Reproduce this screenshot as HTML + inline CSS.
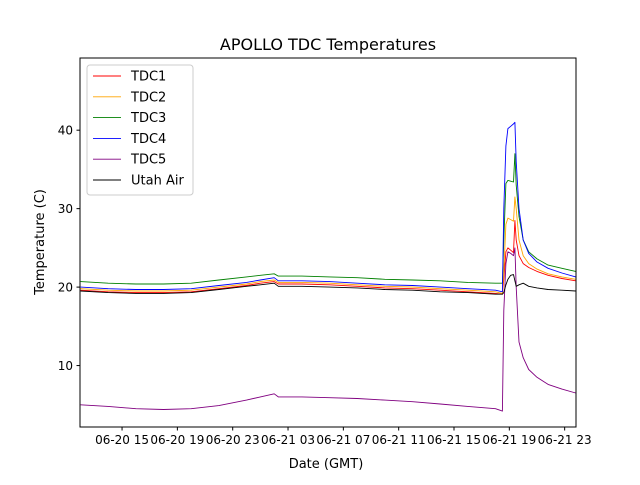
<!DOCTYPE html>
<html><head><meta charset="utf-8"><style>
body{margin:0;background:#fff;font-family:"Liberation Sans","DejaVu Sans",sans-serif}
svg text{font-family:"DejaVu Sans","Liberation Sans",sans-serif}
</style></head><body>
<svg id="c" width="640" height="480" xmlns="http://www.w3.org/2000/svg"></svg>
<script>
const seriesNames=["TDC1","TDC2","TDC3","TDC4","TDC5","Utah Air"];
const seriesColors=["red","orange","green","blue","purple","black"];
const hoursT=[12,14,16,18,20,22,24,25,26,26.3,28,30,32,34,36,38,40,42,42.5,42.6,42.75,42.9,43.1,43.3,43.4,43.5,43.7,44.0,44.4,45,45.8,46.8,47.8];
const tdc1=[19.6,19.4,19.3,19.3,19.4,19.8,20.2,20.5,20.7,20.4,20.4,20.3,20.1,19.9,19.8,19.6,19.4,19.2,19.1,21,24.5,25,24.7,24.4,28.5,26,24,23,22.5,22,21.5,21.1,20.8];
const tdc2=[19.8,19.6,19.5,19.5,19.6,20.0,20.4,20.7,20.9,20.6,20.6,20.5,20.3,20.1,20.0,19.8,19.6,19.4,19.2,22,28,28.8,28.6,28.4,31.5,30,26,24,23,22.3,21.7,21.3,21.0];
const tdc3=[20.7,20.5,20.4,20.4,20.5,20.9,21.3,21.5,21.7,21.4,21.4,21.3,21.2,21.0,20.9,20.8,20.6,20.5,20.5,26,33.2,33.6,33.5,33.4,37,33,29,26,24.5,23.6,22.8,22.4,22.0];
const tdc4=[20.0,19.8,19.7,19.7,19.8,20.2,20.6,20.9,21.2,20.8,20.8,20.7,20.5,20.3,20.2,20.0,19.8,19.6,19.4,30,38,40.2,40.5,40.8,41,36,30,26,24.3,23.2,22.4,21.8,21.3];
const tdc5=[5.0,4.8,4.5,4.4,4.5,4.9,5.6,6.0,6.4,6.0,6.0,5.9,5.8,5.6,5.4,5.1,4.8,4.5,4.2,17,23,24.5,24.3,24,25,20,13,11,9.5,8.5,7.6,7,6.5];
const utah=[19.5,19.3,19.2,19.2,19.3,19.7,20.1,20.3,20.5,20.1,20.1,20.0,19.9,19.7,19.6,19.4,19.3,19.1,19.1,19.3,20.3,21,21.5,21.6,20.8,20.1,20.3,20.5,20.1,19.9,19.7,19.6,19.5];
const allSeries=[tdc1,tdc2,tdc3,tdc4,tdc5,utah];
const xTickHours=[15,19,23,27,31,35,39,43,47];
const xTickLabels=["06-20 15","06-20 19","06-20 23","06-21 03","06-21 07","06-21 11","06-21 15","06-21 19","06-21 23"];
const yTicks=[10,20,30,40];

const L=80,R=576,T=58,B=427,XMIN=11.96,XMAX=47.82,YMIN=2.17,YMAX=49.2;
const sx=h=>L+(h-XMIN)/(XMAX-XMIN)*(R-L);
const sy=v=>B-(v-YMIN)/(YMAX-YMIN)*(B-T);
const svg=document.getElementById('c');
const NS="http://www.w3.org/2000/svg";
function mk(tag,attrs,text){const e=document.createElementNS(NS,tag);for(const k in attrs)e.setAttribute(k,attrs[k]);if(text!==undefined)e.textContent=text;svg.appendChild(e);return e;}

let e=mk('text',{x:328,y:50,'text-anchor':'middle','font-size':16},'APOLLO TDC Temperatures');



allSeries.forEach((s,i)=>{
  const d=s.map((v,j)=>(j?'L':'M')+sx(hoursT[j]).toFixed(1)+','+sy(v).toFixed(1)).join('');
  const p=mk('path',{d:d,fill:'none',stroke:seriesColors[i],'stroke-width':0.9,'stroke-linejoin':'round'});
  
  
});

e=mk('rect',{x:L,y:T,width:R-L,height:B-T,fill:'none',stroke:'#000','stroke-width':1});



xTickHours.forEach((h,i)=>{
  const x=sx(h);
  mk('line',{x1:x,x2:x,y1:B,y2:B+3.5,stroke:'#000'});
  const t=mk('text',{x:x,y:B+17,'text-anchor':'middle','font-size':12},xTickLabels[i]);
  
  
});
yTicks.forEach(v=>{
  const y=sy(v);
  mk('line',{x1:L-3.5,x2:L,y1:y,y2:y,stroke:'#000'});
  const t=mk('text',{x:L-7,y:y+4.5,'text-anchor':'end','font-size':12},String(v));
  
  
});
e=mk('text',{x:326,y:468,'text-anchor':'middle','font-size':13},'Date (GMT)');


e=mk('text',{x:0,y:0,'text-anchor':'middle','font-size':13,transform:'translate(44,242) rotate(-90)'},'Temperature (C)');



e=mk('rect',{x:87,y:65,width:106,height:130,rx:3,fill:'#fff','fill-opacity':0.8,stroke:'#ccc'});


seriesNames.forEach((n,i)=>{
  const y=76+i*20.8;
  mk('line',{x1:93,x2:121,y1:y,y2:y,stroke:seriesColors[i],'stroke-width':0.9});
  const t=mk('text',{x:131,y:y+4.5,'font-size':13},n);
  
  
});
</script>
</body></html>
